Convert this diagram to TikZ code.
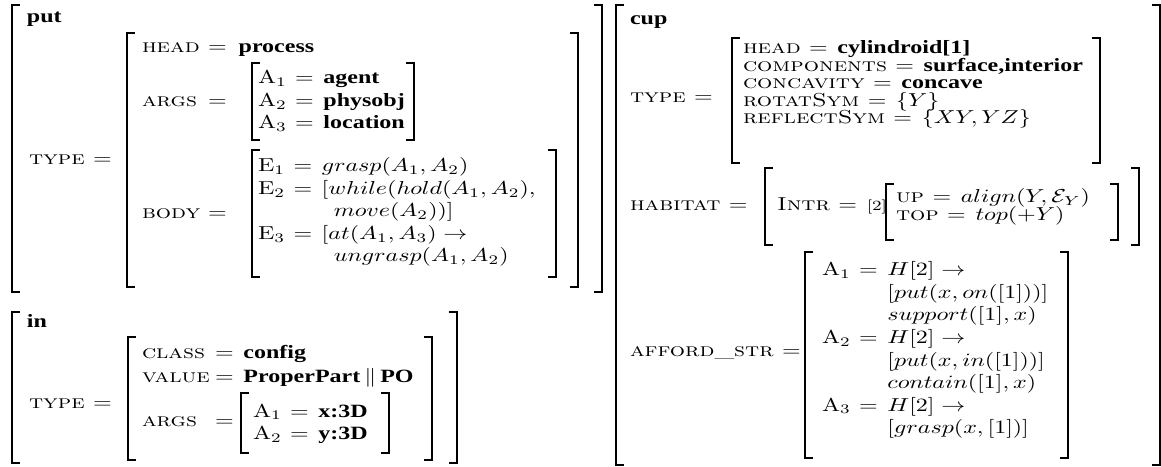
\documentclass[tikz,border=0pt]{standalone}
\usepackage{fontspec}
\newfontfamily\tim{Liberation Serif}
\usepackage{graphicx}
\usepackage{array}
\newcommand\bw[1]{\mbox{\tim\bfseries #1}}
\newcommand\lab[1]{\mbox{\fontsize{10}{12}\selectfont\scshape #1}}
\newcommand\sx[1]{\scalebox{1.28}[1]{#1}}
\newcommand\eq{\hspace{3.5pt}$=$\hspace{4pt}}
\newcommand\avmL[3]{\draw[brk] (#1+8,#2) -- (#1,#2) -- (#1,#3) -- (#1+8,#3);}
\newcommand\avmR[3]{\draw[brk] (#1-8,#2) -- (#1,#2) -- (#1,#3) -- (#1-8,#3);}
\newcolumntype{E}{@{\hspace{3.5pt}}c@{\hspace{4pt}}}
\tikzset{
  t/.style={anchor=base west, inner sep=0pt, outer sep=0pt, font=\fontsize{10}{12}\selectfont},
  brk/.style={line width=0.75pt, line join=miter}
}
\begin{document}
\begin{tikzpicture}[x=0.53333pt, y=-0.53333pt]
\useasboundingbox (0,0) rectangle (1161,467);
% ---------------- put ----------------
\avmL{12}{5}{292} \avmR{602}{5}{292}
\node[t] (put) at (27,23) {\sx{\bw{put}}};
\node[t] (putType) at (29,165) {\sx{\lab{type}\eq}};
\avmL{127}{33}{287} \avmR{578}{33}{287}
\node[t] (putHead) at (142,53) {\sx{\makebox[27.5pt][l]{\lab{head}}$=$\hspace{5pt}\bw{process}}};
\node[t] (putArgs) at (142,107) {\sx{\makebox[27.5pt][l]{\lab{args}}$=$}};
\node[t] (putBody) at (142,219) {\sx{\makebox[27.5pt][l]{\lab{body}}$=$}};
\avmL{252}{63}{140} \avmR{414}{63}{140}
\node[t] (putA) at (258,84) {\sx{$\begin{array}[t]{@{}lEl@{}}
  \mathrm{A}_1&=&\bw{agent}\\ \mathrm{A}_2&=&\bw{physobj}\\ \mathrm{A}_3&=&\bw{location}\end{array}$}};
\avmL{252}{150}{277} \avmR{556}{150}{277}
\node[t] (putE) at (258,172) {\sx{$\begin{array}[t]{@{}lEl@{}}
  \mathrm{E}_1&=&grasp(A_1,A_2)\\
  \mathrm{E}_2&=&[while(hold(A_1,A_2),\\
  &&\hspace{5pt}move(A_2))]\\
  \mathrm{E}_3&=&[at(A_1,A_3)\rightarrow\\
  &&\hspace{5pt}ungrasp(A_1,A_2)\end{array}$}};
% ---------------- in ----------------
\avmL{12}{312}{463} \avmR{457}{312}{463}
\node[t] (in) at (27,328) {\sx{\bw{in}}};
\node[t] (inType) at (29,408) {\sx{\lab{type}\eq}};
\avmL{128}{337}{460} \avmR{432}{337}{460}
\node[t] (inClass) at (142,358) {\sx{\makebox[30.5pt][l]{\lab{class}}$=$\hspace{4pt}\bw{config}}};
\node[t] (inValue) at (142,382) {\sx{\makebox[30.5pt][l]{\lab{value}}$=$\hspace{4pt}\bw{ProperPart}\,$\|$\,\bw{PO}}};
\node[t] (inArgs) at (142,427) {\sx{\makebox[30.5pt][l]{\lab{args}}$=$}};
\avmL{241}{393}{453} \avmR{389}{393}{453}
\node[t] (inA) at (253,417) {\sx{$\begin{array}[t]{@{}lEl@{}}
  \mathrm{A}_1&=&\bw{x:3D}\\ \mathrm{A}_2&=&\bw{y:3D}\end{array}$}};
% ---------------- cup ----------------
\avmL{616}{5}{465} \avmR{1160}{5}{465}
\node[t] (cup) at (630,25) {\sx{\bw{cup}}};
\node[t] (cupType) at (630,103) {\sx{\lab{type}\eq}};
\avmL{732}{38}{163} \avmR{1100}{38}{163}
\node[t] (cupHead) at (743,54) {\sx{\lab{head}\eq\bw{cylindroid[1]}}};
\node[t] (cupComp) at (743,71.5) {\sx{\lab{components}\eq\bw{surface,interior}}};
\node[t] (cupConc) at (743,89) {\sx{\lab{concavity}\eq\bw{concave}}};
\node[t] (cupRot) at (743,106.5) {\sx{\lab{rotatSym}\eq$\{Y\}$}};
\node[t] (cupRefl) at (743,124) {\sx{\lab{reflectSym}\eq$\{XY,YZ\}$}};
\node[t] (cupHab) at (630,211) {\sx{\lab{habitat}\eq}};
\avmL{765}{168}{245} \avmR{1139}{168}{245}
\node[t] (cupIntr) at (777,211) {\sx{\lab{Intr}\eq{\fontsize{7.5}{8}\selectfont[2]}}};
\avmL{886}{184}{240} \avmR{1118}{184}{240}
\node[t] (cupUp) at (896,203) {\sx{\lab{up}\eq$align(Y,\mathcal{E}_Y)$}};
\node[t] (cupTop) at (896,220.5) {\sx{\lab{top}\eq$top(+Y)$}};
\node[t] (cupAff) at (630,357) {\sx{\lab{afford\_str}\eq}};
\avmL{805}{252}{458} \avmR{1068}{252}{458}
\node[t] (cupA) at (822,276) {\sx{$\begin{array}[t]{@{}lEl@{}}
  \mathrm{A}_1&=&H[2]\rightarrow\\
  &&[put(x,on([1]))]\\
  &&support([1],x)\\
  \mathrm{A}_2&=&H[2]\rightarrow\\
  &&[put(x,in([1]))]\\
  &&contain([1],x)\\
  \mathrm{A}_3&=&H[2]\rightarrow\\
  &&[grasp(x,[1])]\end{array}$}};
\end{tikzpicture}
\end{document}
